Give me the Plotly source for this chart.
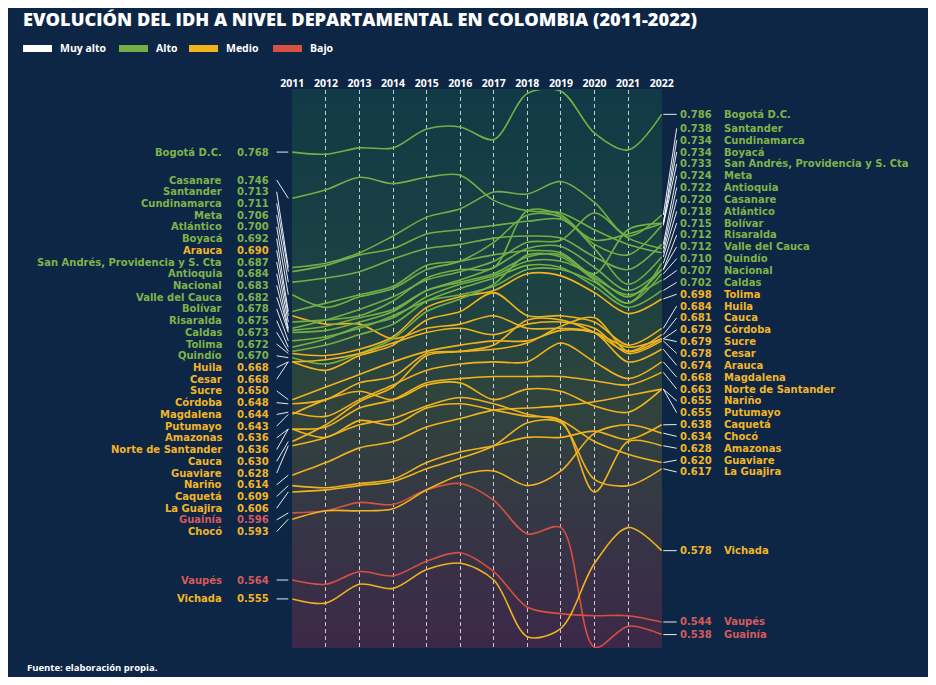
import plotly.graph_objects as go

# --- datos: IDH por departamento, 2011-2022 ---
anios = list(range(2011, 2023))

nombres = ["Bogotá D.C.", "Casanare", "Santander", "Cundinamarca", "Meta", "Atlántico",
           "Boyacá", "Arauca", "San Andrés, Providencia y S. Cta", "Antioquia", "Nacional",
           "Valle del Cauca", "Bolívar", "Risaralda", "Caldas", "Tolima", "Quindío", "Huila",
           "Cesar", "Sucre", "Córdoba", "Magdalena", "Putumayo", "Amazonas",
           "Norte de Santander", "Cauca", "Guaviare", "Nariño", "Caquetá", "La Guajira",
           "Guainía", "Chocó", "Vaupés", "Vichada"]

bogota = [0.768, 0.767, 0.770, 0.770, 0.779, 0.780, 0.774, 0.796, 0.797, 0.777, 0.769, 0.786]
casanare = [0.746, 0.750, 0.756, 0.753, 0.756, 0.757, 0.745, 0.740, 0.739, 0.731, 0.724, 0.720]
santander = [0.713, 0.715, 0.720, 0.728, 0.737, 0.741, 0.749, 0.748, 0.754, 0.744, 0.728, 0.738]
cundinamarca = [0.711, 0.714, 0.719, 0.722, 0.729, 0.731, 0.733, 0.735, 0.736, 0.726, 0.729, 0.734]
meta = [0.706, 0.708, 0.711, 0.717, 0.722, 0.724, 0.727, 0.728, 0.727, 0.718, 0.712, 0.724]
atlantico = [0.700, 0.694, 0.699, 0.703, 0.712, 0.716, 0.725, 0.738, 0.737, 0.722, 0.705, 0.718]
boyaca = [0.692, 0.696, 0.700, 0.704, 0.714, 0.716, 0.719, 0.721, 0.720, 0.710, 0.731, 0.734]
arauca = [0.690, 0.686, 0.686, 0.679, 0.684, 0.686, 0.690, 0.684, 0.684, 0.682, 0.668, 0.674]
san_andres = [0.687, 0.688, 0.690, 0.697, 0.708, 0.712, 0.713, 0.740, 0.738, 0.724, 0.719, 0.733]
antioquia = [0.684, 0.688, 0.693, 0.699, 0.707, 0.711, 0.716, 0.725, 0.726, 0.739, 0.727, 0.722]
nacional = [0.683, 0.685, 0.689, 0.693, 0.702, 0.706, 0.710, 0.718, 0.719, 0.708, 0.700, 0.707]
valle = [0.682, 0.683, 0.687, 0.692, 0.702, 0.707, 0.713, 0.722, 0.723, 0.713, 0.702, 0.712]
bolivar = [0.678, 0.680, 0.684, 0.690, 0.697, 0.700, 0.704, 0.712, 0.712, 0.706, 0.696, 0.715]
risaralda = [0.675, 0.679, 0.685, 0.689, 0.699, 0.705, 0.709, 0.716, 0.716, 0.709, 0.699, 0.712]
caldas = [0.673, 0.676, 0.681, 0.686, 0.697, 0.703, 0.708, 0.714, 0.713, 0.704, 0.694, 0.702]
tolima = [0.672, 0.671, 0.674, 0.680, 0.694, 0.699, 0.702, 0.710, 0.709, 0.701, 0.691, 0.698]
quindio = [0.670, 0.667, 0.672, 0.679, 0.692, 0.698, 0.705, 0.719, 0.718, 0.707, 0.696, 0.710]
huila = [0.668, 0.664, 0.671, 0.676, 0.688, 0.692, 0.701, 0.690, 0.690, 0.687, 0.676, 0.684]
cesar = [0.668, 0.669, 0.672, 0.677, 0.682, 0.684, 0.681, 0.686, 0.687, 0.684, 0.672, 0.678]
sucre = [0.650, 0.656, 0.662, 0.668, 0.673, 0.676, 0.678, 0.678, 0.683, 0.682, 0.675, 0.679]
cordoba = [0.648, 0.650, 0.658, 0.661, 0.672, 0.673, 0.674, 0.677, 0.685, 0.689, 0.673, 0.679]
magdalena = [0.644, 0.642, 0.650, 0.657, 0.664, 0.667, 0.668, 0.668, 0.677, 0.668, 0.660, 0.668]
putumayo = [0.643, 0.650, 0.654, 0.650, 0.657, 0.658, 0.650, 0.655, 0.654, 0.647, 0.644, 0.655]
amazonas = [0.636, 0.632, 0.640, 0.638, 0.646, 0.648, 0.645, 0.642, 0.640, 0.606, 0.630, 0.628]
norte_santander = [0.636, 0.637, 0.646, 0.650, 0.658, 0.660, 0.661, 0.661, 0.661, 0.659, 0.657, 0.663]
cauca = [0.630, 0.638, 0.649, 0.656, 0.671, 0.673, 0.676, 0.688, 0.688, 0.682, 0.673, 0.681]
guaviare = [0.628, 0.632, 0.638, 0.641, 0.647, 0.651, 0.648, 0.643, 0.640, 0.630, 0.624, 0.620]
narino = [0.614, 0.620, 0.627, 0.630, 0.637, 0.641, 0.645, 0.646, 0.647, 0.649, 0.652, 0.655]
caqueta = [0.609, 0.608, 0.610, 0.612, 0.620, 0.625, 0.628, 0.632, 0.632, 0.635, 0.631, 0.638]
la_guajira = [0.606, 0.607, 0.609, 0.611, 0.617, 0.622, 0.628, 0.639, 0.639, 0.612, 0.609, 0.617]
guainia = [0.596, 0.597, 0.601, 0.600, 0.607, 0.610, 0.602, 0.586, 0.589, 0.532, 0.542, 0.538]
choco = [0.593, 0.597, 0.597, 0.598, 0.607, 0.614, 0.616, 0.609, 0.616, 0.634, 0.638, 0.634]
vaupes = [0.564, 0.562, 0.568, 0.566, 0.573, 0.577, 0.568, 0.551, 0.548, 0.547, 0.547, 0.544]
vichada = [0.555, 0.553, 0.562, 0.560, 0.569, 0.572, 0.564, 0.537, 0.541, 0.572, 0.589, 0.578]

series = [bogota, casanare, santander, cundinamarca, meta, atlantico, boyaca, arauca,
          san_andres, antioquia, nacional, valle, bolivar, risaralda, caldas, tolima, quindio,
          huila, cesar, sucre, cordoba, magdalena, putumayo, amazonas, norte_santander, cauca,
          guaviare, narino, caqueta, la_guajira, guainia, choco, vaupes, vichada]

# grupo segun el IDH de 2022 (color de la linea y de la etiqueta derecha)
grupo = ["Alto"] * 7 + ["Medio"] + ["Alto"] * 7 + ["Medio", "Alto"] + ["Medio"] * 13 \
        + ["Bajo", "Medio", "Bajo", "Medio"]
# en la fuente Tolima sale en verde a la izquierda
grupo_izq = list(grupo)
grupo_izq[nombres.index("Tolima")] = "Alto"

orden_der = ["Bogotá D.C.", "Santander", "Cundinamarca", "Boyacá",
             "San Andrés, Providencia y S. Cta", "Meta", "Antioquia", "Casanare", "Atlántico",
             "Bolívar", "Risaralda", "Valle del Cauca", "Quindío", "Nacional", "Caldas", "Tolima",
             "Huila", "Cauca", "Córdoba", "Sucre", "Cesar", "Arauca", "Magdalena",
             "Norte de Santander", "Nariño", "Putumayo", "Caquetá", "Chocó", "Amazonas",
             "Guaviare", "La Guajira", "Vichada", "Vaupés", "Guainía"]
fijos_izq = ["Bogotá D.C.", "Vaupés", "Vichada"]
fijos_der = ["Bogotá D.C.", "Vichada", "Vaupés", "Guainía"]

leyenda = ["Muy alto", "Alto", "Medio", "Bajo"]

# --- estilo ---
FONDO = "#0d2646"
colores = {"Muy alto": "#ffffff", "Alto": "#72b045", "Medio": "#f0b31d", "Bajo": "#d8503f"}
colores_txt = {"Alto": "#7db44a", "Medio": "#f2b526", "Bajo": "#d65a5c"}
FUENTE = "Open Sans"
FUENTE_ET = "DejaVu Sans"

# la pagina de plotly tiene 8px de margen en el body: se compensa
OFF = 8
W, H = 936 - 2 * OFF, 685 - 2 * OFF
# area del grafico en pixeles de la imagen de referencia
P_IZQ, P_DER, P_SUP, P_INF = 292, 662, 90, 648
ANCHO_P = P_DER - P_IZQ
ALTO_P = P_INF - P_SUP
M_L, M_T = P_IZQ - OFF, P_SUP - OFF
M_R, M_B = W - (P_DER - OFF), H - (P_INF - OFF)
Y_MIN, Y_MAX = 0.5316, 0.7976
PPU = ALTO_P / (Y_MAX - Y_MIN)  # pixeles por unidad de IDH


def px_x(px):
    return (px - P_IZQ) / ANCHO_P


def px_y(py):
    return (P_INF - py) / ALTO_P


def py_a_valor(py):
    return Y_MAX - (py - P_SUP) / PPU


fig = go.Figure()

for nombre, serie, g in zip(nombres, series, grupo):
    fig.add_trace(go.Scatter(
        x=anios, y=serie, mode="lines", name=nombre,
        line=dict(color=colores[g], width=1.6, shape="spline", smoothing=0.9),
        hoverinfo="skip", showlegend=False))

shapes = []
annotations = []

# fondo degradado del area del grafico
paradas = [(0.0, (16, 58, 70)), (0.35, (28, 66, 66)), (0.55, (47, 68, 60)),
           (0.78, (54, 54, 70)), (1.0, (60, 40, 72))]


def color_en(t):
    for (t0, c0), (t1, c1) in zip(paradas[:-1], paradas[1:]):
        if t <= t1:
            f = (t - t0) / (t1 - t0)
            return "rgb(%d,%d,%d)" % tuple(round(a + (b - a) * f) for a, b in zip(c0, c1))
    return "rgb(%d,%d,%d)" % paradas[-1][1]


n_bandas = 90
for i in range(n_bandas):
    shapes.append(dict(type="rect", xref="x domain", yref="y domain", x0=0, x1=1,
                       y0=1 - (i + 1) / n_bandas, y1=1 - i / n_bandas + 0.002,
                       fillcolor=color_en((i + 0.5) / n_bandas), line=dict(width=0),
                       layer="below"))

# --- etiquetas izquierda (2011) y derecha (2022) ---
ini = {n: s[0] for n, s in zip(nombres, series)}
fin = {n: s[-1] for n, s in zip(nombres, series)}
color_izq = dict(zip(nombres, grupo_izq))
color_der = dict(zip(nombres, grupo))

orden_izq = sorted(nombres, key=lambda n: -ini[n])
pos_izq = {}
k = 0
for n in orden_izq:
    if n in fijos_izq:
        pos_izq[n] = ini[n]
    else:
        pos_izq[n] = py_a_valor(180 + k * 11.72)
        k += 1

pos_der = {}
k = 0
for n in orden_der:
    if n in fijos_der:
        pos_der[n] = fin[n]
    else:
        pos_der[n] = py_a_valor(128.3 + k * 11.85)
        k += 1


def fuente_et(c):
    return dict(family=FUENTE_ET, size=10, color=c, weight="bold")


for n in nombres:
    c = colores_txt[color_izq[n]]
    annotations.append(dict(text=n, x=0, xref="paper", xshift=-69, y=pos_izq[n], yref="y",
                            xanchor="right", yanchor="middle", showarrow=False,
                            font=fuente_et(c), borderpad=0))
    annotations.append(dict(text="%.3f" % ini[n], x=0, xref="paper", xshift=-22.5, y=pos_izq[n],
                            yref="y", xanchor="right", yanchor="middle", showarrow=False,
                            font=fuente_et(c), borderpad=0))
    shapes.append(dict(type="line", xref="paper", yref="y", x0=px_x(276.7), x1=px_x(288.3),
                       y0=pos_izq[n], y1=ini[n], line=dict(color="rgba(255,255,255,0.9)", width=1)))

    c = colores_txt[color_der[n]]
    annotations.append(dict(text="%.3f" % fin[n], x=1, xref="paper", xshift=17, y=pos_der[n],
                            yref="y", xanchor="left", yanchor="middle", showarrow=False,
                            font=fuente_et(c), borderpad=0))
    annotations.append(dict(text=n, x=1, xref="paper", xshift=61, y=pos_der[n], yref="y",
                            xanchor="left", yanchor="middle", showarrow=False,
                            font=fuente_et(c), borderpad=0))
    shapes.append(dict(type="line", xref="paper", yref="y", x0=px_x(663.3), x1=px_x(676.7),
                       y0=fin[n], y1=pos_der[n], line=dict(color="rgba(255,255,255,0.9)", width=1)))

# --- leyenda ---
ley_x = [23, 119, 189, 273]
for nombre, x0 in zip(leyenda, ley_x):
    shapes.append(dict(type="rect", xref="paper", yref="paper", x0=px_x(x0), x1=px_x(x0 + 29),
                       y0=px_y(52), y1=px_y(45), fillcolor=colores[nombre], line=dict(width=0)))
    annotations.append(dict(text=nombre, xref="paper", yref="paper", x=px_x(x0 + 35),
                            y=px_y(48.5), xanchor="left", yanchor="middle", showarrow=False,
                            font=dict(family=FUENTE, size=10.5, color="white", weight="bold")))

annotations.append(dict(text="Fuente: elaboración propia.", xref="paper", yref="paper",
                        x=px_x(25), y=px_y(667), xanchor="left", yanchor="middle",
                        showarrow=False,
                        font=dict(family=FUENTE, size=9.5, color="white", weight="bold")))

fig.update_layout(
    width=W, height=H,
    margin=dict(l=M_L, r=M_R, t=M_T, b=M_B),
    paper_bgcolor=FONDO, plot_bgcolor="rgba(0,0,0,0)",
    title=dict(text="EVOLUCIÓN DEL IDH A NIVEL DEPARTAMENTAL EN COLOMBIA (2011-2022)",
               x=(23 - OFF) / W, xanchor="left", y=1 - (20 - OFF) / H, yanchor="middle",
               xref="container", yref="container",
               font=dict(family=FUENTE, size=18.2, color="white", weight=800)),
    xaxis=dict(range=[2010.99, 2022.01], side="top", tickvals=anios,
               ticktext=[str(a) for a in anios],
               tickfont=dict(family=FUENTE, size=10.5, color="white", weight="bold"),
               showgrid=True, gridcolor="rgba(255,255,255,0.75)", gridwidth=1,
               griddash="4px,3px", zeroline=False, showline=False, ticks="",
               fixedrange=True),
    yaxis=dict(range=[Y_MIN, Y_MAX], visible=False, showgrid=False, fixedrange=True),
    shapes=shapes, annotations=annotations,
)

fig.write_html("out.html")
